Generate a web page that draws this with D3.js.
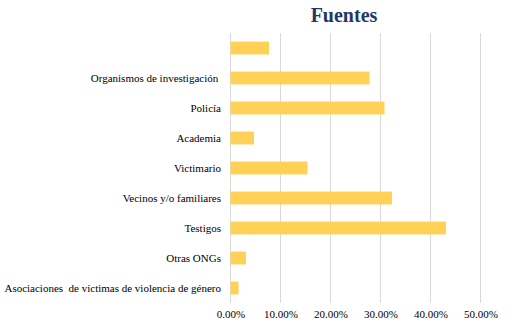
<!DOCTYPE html>
<html>
<head>
<meta charset="utf-8">
<script src="https://cdn.jsdelivr.net/npm/d3@7"></script>
<style>
  html, body { margin: 0; padding: 0; background: #ffffff; }
  svg { display: block; }
</style>
</head>
<body>
<div id="chart"></div>
<script>
// Sources cited, share of cases (top to bottom as displayed)
const categories = [
  "",
  "Organismos de investigación ",
  "Policía",
  "Academia",
  "Victimario",
  "Vecinos y/o familiares",
  "Testigos",
  "Otras ONGs",
  "Asociaciones  de víctimas de violencia de género"
];
const values = [0.077, 0.278, 0.308, 0.047, 0.154, 0.323, 0.431, 0.031, 0.016];
const tickValues = [0, 0.1, 0.2, 0.3, 0.4, 0.5];
const title = "Fuentes";

const width = 527, height = 323;
const margin = { top: 33, right: 46, bottom: 20, left: 230.5 };
const serif = '"Liberation Serif", "Times New Roman", serif';

const svg = d3.select("#chart").append("svg")
  .attr("width", width)
  .attr("height", height);

const x = d3.scaleLinear()
  .domain([0, 0.5])
  .range([margin.left, margin.left + 250]);

const y = d3.scaleBand()
  .domain(categories.map((d, i) => i))
  .range([margin.top, height - margin.bottom])
  .paddingInner(0.57)
  .paddingOuter(0.285);

// vertical gridlines
svg.append("g")
  .selectAll("line")
  .data(tickValues)
  .join("line")
  .attr("x1", d => x(d))
  .attr("x2", d => x(d))
  .attr("y1", margin.top)
  .attr("y2", height - margin.bottom)
  .attr("stroke", "#d9d9d9")
  .attr("stroke-width", 1);

// bars
svg.append("g")
  .selectAll("rect")
  .data(values)
  .join("rect")
  .attr("x", x(0))
  .attr("y", (d, i) => y(i))
  .attr("width", d => x(d) - x(0))
  .attr("height", y.bandwidth())
  .attr("fill", "#ffd257");

// category labels
svg.append("g")
  .selectAll("text")
  .data(categories)
  .join("text")
  .attr("x", 221)
  .attr("y", (d, i) => y(i) + y.bandwidth() / 2)
  .attr("dy", "0.35em")
  .attr("text-anchor", "end")
  .style("font-family", serif)
  .style("font-size", "11px")
  .style("white-space", "pre")
  .attr("fill", "#000")
  .text(d => d);

// x axis tick labels
const xAxis = d3.axisBottom(x)
  .tickValues(tickValues)
  .tickFormat(d3.format(".2%"))
  .tickSize(0)
  .tickPadding(7);

const ax = svg.append("g")
  .attr("transform", `translate(0,${height - margin.bottom})`)
  .call(xAxis);
ax.attr("font-family", null).attr("font-size", null);
ax.select(".domain").remove();
ax.selectAll("text")
  .style("font-family", serif)
  .style("font-size", "11px")
  .attr("fill", "#000");

// title
svg.append("text")
  .attr("x", 344)
  .attr("y", 22)
  .attr("text-anchor", "middle")
  .style("font-family", serif)
  .style("font-weight", "bold")
  .style("font-size", "20px")
  .attr("fill", "#1f3864")
  .text(title);
</script>
</body>
</html>
